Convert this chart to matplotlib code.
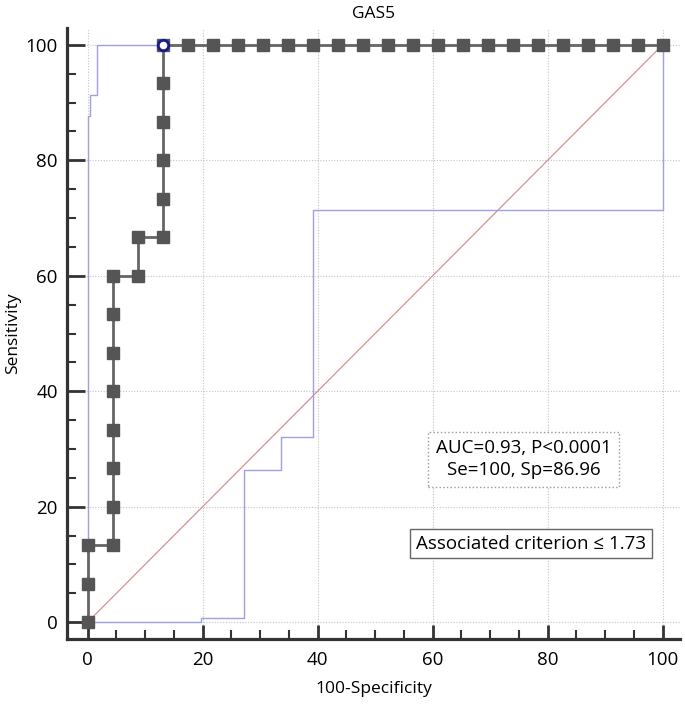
import numpy as np
import matplotlib.pyplot as plt
from matplotlib.ticker import MultipleLocator

plt.rcParams['font.family'] = ['Open Sans', 'DejaVu Sans']

# ROC curve (100-Specificity, Sensitivity)
roc_x = [0, 0, 0, 4.35, 4.35, 4.35, 4.35, 4.35, 4.35, 4.35, 4.35, 8.70, 8.70,
         13.04, 13.04, 13.04, 13.04, 13.04, 13.04,
         17.39, 21.74, 26.09, 30.43, 34.78, 39.13, 43.48, 47.83, 52.17, 56.52,
         60.87, 65.22, 69.57, 73.91, 78.26, 82.61, 86.96, 91.30, 95.65, 100]
roc_y = [0, 6.67, 13.33, 13.33, 20, 26.67, 33.33, 40, 46.67, 53.33, 60, 60, 66.67,
         66.67, 73.33, 80, 86.67, 93.33, 100,
         100, 100, 100, 100, 100, 100, 100, 100, 100, 100,
         100, 100, 100, 100, 100, 100, 100, 100, 100, 100]

# optimal cut-off point
cut_x = 13.04
cut_y = 100

# confidence bounds
upper_x = [0, 0, 0.5, 0.5, 1.7, 1.7, 100]
upper_y = [0, 87.6, 87.6, 91.4, 91.4, 100, 100]
lower_x = [0, 19.65, 19.65, 27.2, 27.2, 33.6, 33.6, 39.2, 39.2, 100, 100]
lower_y = [0, 0, 0.8, 0.8, 26.4, 26.4, 32.1, 32.1, 71.4, 71.4, 100]

fig = plt.figure(figsize=(6.85, 7.06), dpi=100)
ax = fig.add_axes([0.0985, 0.095, 0.894, 0.866])

ax.plot([0, 100], [0, 100], color='#d99090', lw=0.9, zorder=2)
ax.plot(upper_x, upper_y, color='#a0a0e0', lw=1.0, zorder=3)
ax.plot(lower_x, lower_y, color='#a0a0e0', lw=1.0, zorder=3)
ax.plot(roc_x, roc_y, color='#666666', lw=2.0, marker='s', markersize=8,
        markerfacecolor='#555555', markeredgecolor='#555555', zorder=4)
ax.plot([cut_x], [cut_y], marker='o', markersize=7.5, markerfacecolor='white',
        markeredgecolor='#1a1a8c', markeredgewidth=2, zorder=5)

ax.set_xlim(-3.5, 103)
ax.set_ylim(-2.9, 103)
ax.xaxis.set_major_locator(MultipleLocator(20))
ax.yaxis.set_major_locator(MultipleLocator(20))
ax.xaxis.set_minor_locator(MultipleLocator(5))
ax.yaxis.set_minor_locator(MultipleLocator(5))
ax.grid(True, which='major', color='#c4c4c4', linestyle=(0, (1, 1.5)), lw=0.8)

for s in ['top', 'right']:
    ax.spines[s].set_visible(False)
for s in ['left', 'bottom']:
    ax.spines[s].set_linewidth(2.3)
    ax.spines[s].set_color('#333333')

ax.tick_params(axis='both', which='both', direction='in', color='#333333',
               labelsize=13.5, width=2)
ax.tick_params(axis='y', which='major', length=13, pad=7)
ax.tick_params(axis='y', which='minor', length=6.5, width=1.5)
ax.tick_params(axis='x', which='major', length=10, pad=9)
ax.tick_params(axis='x', which='minor', length=6.5, width=1.5)

ax.set_xlabel('100-Specificity', fontsize=12.5, labelpad=8)
ax.set_ylabel('Sensitivity', fontsize=12.5, labelpad=3)
ax.set_title('GAS5', fontsize=12.5, pad=7)

ax.text(75.8, 28.2, 'AUC=0.93, P<0.0001\nSe=100, Sp=86.96', fontsize=13.5,
        ha='center', va='center', linespacing=1.3,
        bbox=dict(boxstyle='square,pad=0.4', facecolor='white',
                  edgecolor='#999999', linestyle=':', lw=1))
ax.text(77.1, 13.6, 'Associated criterion \u2264 1.73', fontsize=13.5,
        ha='center', va='center',
        bbox=dict(boxstyle='square,pad=0.3', facecolor='white',
                  edgecolor='#666666', lw=1))

fig.savefig('out.png', dpi=100)
